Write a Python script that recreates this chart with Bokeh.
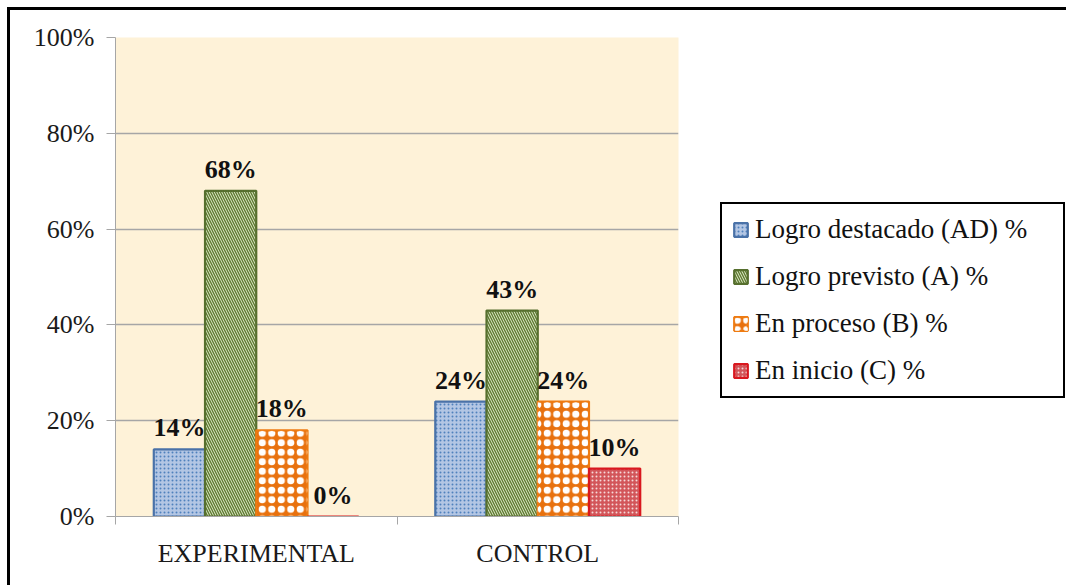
from bokeh.plotting import figure
from bokeh.models import ColumnDataSource, Legend, LegendItem, FixedTicker, PrintfTickFormatter
from bokeh.transform import dodge
from bokeh.core.properties import value
from bokeh.embed import file_html
from bokeh.resources import INLINE

# Categories, series and values
groups = ["EXPERIMENTAL", "CONTROL"]
series_names = ["Logro destacado (AD) %", "Logro previsto (A) %", "En proceso (B) %", "En inicio (C) %"]
logro_destacado = [14, 24]
logro_previsto = [68, 43]
en_proceso = [18, 24]
en_inicio = [0, 10]
y_ticks = [0, 20, 40, 60, 80, 100]

series_values = [logro_destacado, logro_previsto, en_proceso, en_inicio]

SERIF = "Liberation Serif"
GRID = "#A6A6A6"

# styling per series: fill, hatch pattern, hatch colour, scale, weight, outline
styles = [
    dict(fill_color="#B3C6E4", hatch_pattern="dot", hatch_color="#4F81BD",
         hatch_scale=4, hatch_weight=0.6, line_color="#4A72A8"),
    dict(fill_color="#DCE8C6", hatch_pattern="left_diagonal_line", hatch_color="#5F7A32",
         hatch_scale=5, hatch_weight=1.4, line_color="#566F2E"),
    dict(fill_color="#E8710E", hatch_pattern="ring", hatch_color="white",
         hatch_scale=9.5, hatch_weight=2.4, line_color="#EE7B12"),
    dict(fill_color="#D2565A", hatch_pattern="dot", hatch_color="#F6D8D8",
         hatch_scale=4, hatch_weight=0.5, line_color="#D9181F"),
]

bar_w = 0.182
offsets = [-1.5 * bar_w, -0.5 * bar_w, 0.5 * bar_w, 1.5 * bar_w]

centers = [i + 0.5 for i in range(len(groups))]

p = figure(frame_width=563, frame_height=479, x_range=(0, len(groups)), y_range=(0, 100),
           output_backend="svg", toolbar_location=None,
           min_border_left=105, min_border_top=27, min_border_right=388, min_border_bottom=69)
p.styles = {"margin-left": "7px", "margin-top": "7px",
            "border-top": "3px solid #000", "border-left": "3px solid #000"}

p.background_fill_color = "#FEF2D8"
p.border_fill_color = "white"
p.outline_line_color = None

items = []
for name, vals, st, off in zip(series_names, series_values, styles, offsets):
    src = ColumnDataSource(dict(x=centers, top=vals, label=[f"{v}%" for v in vals]))
    xs = dodge("x", off, range=p.x_range)
    r = p.vbar(x=xs, top="top", width=bar_w, bottom=0,
               source=src, line_width=2.2, **st)
    rends = [r]
    if st["hatch_pattern"] == "ring":
        # fill the centre of each ring so the white discs are solid
        rends.append(p.vbar(x=xs, top="top", width=bar_w, bottom=0, source=src,
                            fill_alpha=0, line_color=None, hatch_pattern="dot",
                            hatch_color="white", hatch_scale=st["hatch_scale"],
                            hatch_weight=0.5))
    p.text(x=xs, y="top", text="label", source=src,
           text_align="center", text_baseline="bottom", y_offset=-7,
           text_font=value(SERIF), text_font_style="bold", text_font_size="26px",
           text_color="#111111")
    items.append(LegendItem(label=name, renderers=rends))

# y axis
p.yaxis.ticker = FixedTicker(ticks=y_ticks)
p.yaxis.formatter = PrintfTickFormatter(format="%d%%")
p.yaxis.axis_line_color = GRID
p.yaxis.major_tick_line_color = GRID
p.yaxis.major_tick_out = 9
p.yaxis.major_tick_in = 0
p.yaxis.minor_tick_line_color = None
p.yaxis.major_label_standoff = 12
p.yaxis.major_label_text_font = SERIF
p.yaxis.major_label_text_font_size = "26px"
p.yaxis.major_label_text_color = "#1A1A1A"

# x axis: labels at group centres, tick marks at group boundaries
p.xaxis.ticker = FixedTicker(ticks=centers, minor_ticks=list(range(len(groups) + 1)))
p.xaxis.major_label_overrides = {c: g for c, g in zip(centers, groups)}
p.xaxis.axis_line_color = GRID
p.xaxis.major_tick_line_color = None
p.xaxis.major_tick_out = 0
p.xaxis.major_tick_in = 0
p.xaxis.minor_tick_line_color = GRID
p.xaxis.minor_tick_out = 8
p.xaxis.minor_tick_in = 0
p.xaxis.major_label_standoff = 14
p.xaxis.major_label_text_font = SERIF
p.xaxis.major_label_text_font_size = "26px"
p.xaxis.major_label_text_color = "#1A1A1A"

p.xgrid.grid_line_color = None
p.ygrid.grid_line_color = GRID
p.ygrid.grid_line_width = 1.3

legend = Legend(items=items, location=(42, 118), margin=0, padding=10,
                spacing=16, label_height=28, label_width=298,
                glyph_width=17, glyph_height=17, label_standoff=6,
                label_text_font=SERIF, label_text_font_size="27px",
                label_text_color="#111111",
                border_line_color="black", border_line_width=2.5, border_line_alpha=1.0,
                background_fill_color="white", background_fill_alpha=1.0)
p.add_layout(legend, "right")

open("out.html", "w").write(file_html(p, INLINE))
